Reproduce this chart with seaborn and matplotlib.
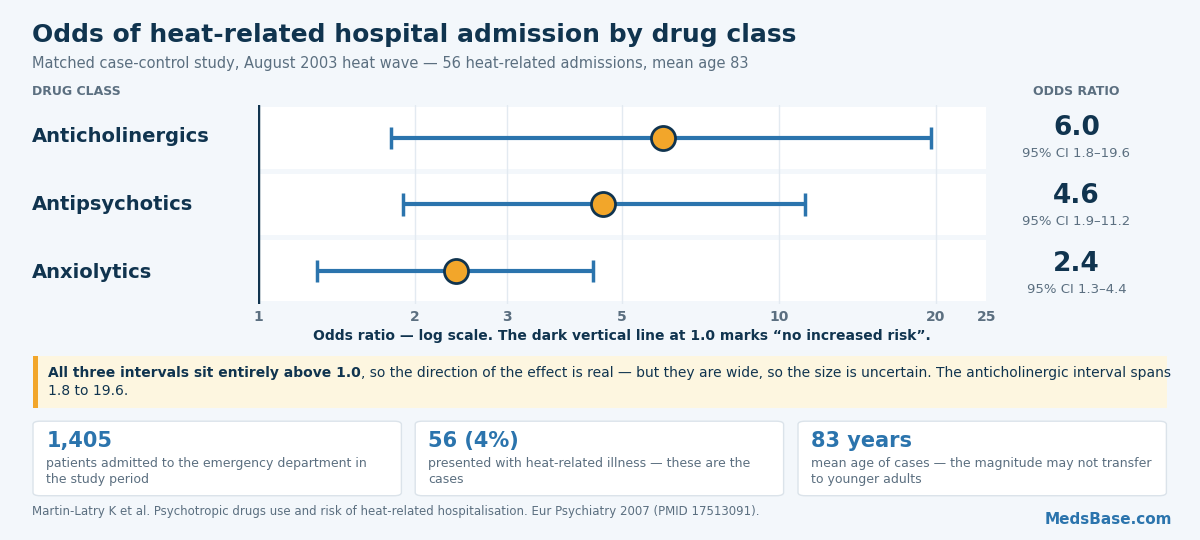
import matplotlib
matplotlib.use("Agg")
import matplotlib.pyplot as plt
import seaborn as sns
import pandas as pd
from matplotlib.patches import FancyBboxPatch, Rectangle

drugs = ["Anticholinergics", "Antipsychotics", "Anxiolytics"]
odds = [6.0, 4.6, 2.4]
lo = [1.8, 1.9, 1.3]
hi = [19.6, 11.2, 4.4]
ticks = [1, 2, 3, 5, 10, 20, 25]
cards = [("1,405", "patients admitted to the emergency department in\nthe study period"),
         ("56 (4%)", "presented with heat-related illness — these are the\ncases"),
         ("83 years", "mean age of cases — the magnitude may not transfer\nto younger adults")]

sns.set_theme(style="white")
plt.rcParams['font.family'] = ['DejaVu Sans']
BG = "#f3f7fb"; NAVY = "#10344f"; BLUE = "#2b74ad"; GREY = "#5b6f80"; ORANGE = "#f2a62a"
fig = plt.figure(figsize=(12, 5.4), dpi=100, facecolor=BG)

fig.text(0.027, 0.935, "Odds of heat-related hospital admission by drug class", fontsize=18, weight="bold", color=NAVY, va="center")
fig.text(0.027, 0.882, "Matched case-control study, August 2003 heat wave — 56 heat-related admissions, mean age 83", fontsize=10.5, color=GREY, va="center")
fig.text(0.027, 0.830, "DRUG CLASS", fontsize=9, weight="bold", color=GREY, va="center")
fig.text(0.897, 0.830, "ODDS RATIO", fontsize=9, weight="bold", color=GREY, va="center", ha="center")

ax = fig.add_axes([0.215, 0.437, 0.607, 0.369])
ax.set_facecolor(BG)
df = pd.DataFrame({"drug": drugs, "or": odds, "lo": lo, "hi": hi, "y": [0, 1, 2]})
ax.set_xscale("log")
ax.set_xlim(1, 25)
ax.set_ylim(2.5, -0.5)
for i in range(3):
    ax.add_patch(Rectangle((1, i - 0.46), 24, 0.92, facecolor="white", edgecolor="none", zorder=0))
for t in [2, 3, 5, 10, 20]:
    ax.axvline(t, color="#e3eaf1", lw=1, zorder=1)
ax.axvline(1, color=NAVY, lw=2.5, zorder=2)
ax.hlines(df["y"], df["lo"], df["hi"], color=BLUE, lw=3, zorder=3)
ax.vlines(df["lo"], df["y"] - 0.17, df["y"] + 0.17, color=BLUE, lw=2.5, zorder=3)
ax.vlines(df["hi"], df["y"] - 0.17, df["y"] + 0.17, color=BLUE, lw=2.5, zorder=3)
sns.scatterplot(data=df, x="or", y="y", s=300, color=ORANGE, edgecolor=NAVY, linewidth=2, zorder=4, ax=ax, legend=False)
ax.set_xticks(ticks)
ax.set_xticklabels([str(t) for t in ticks], fontsize=10, weight="bold", color=GREY)
ax.xaxis.set_minor_locator(matplotlib.ticker.NullLocator())
ax.set_yticks([])
ax.set_xlabel("Odds ratio — log scale. The dark vertical line at 1.0 marks “no increased risk”.", fontsize=10, weight="bold", color=NAVY, labelpad=4)
ax.set_ylabel("")
ax.tick_params(axis="x", length=0, pad=4)
for s in ax.spines.values():
    s.set_visible(False)

ys = [0.748, 0.622, 0.496]
for y, d, o, l, h in zip(ys, drugs, odds, lo, hi):
    fig.text(0.027, y, d, fontsize=14, weight="bold", color=NAVY, va="center")
    fig.text(0.897, y + 0.015, f"{o:.1f}", fontsize=19, weight="bold", color=NAVY, va="center", ha="center")
    fig.text(0.897, y - 0.032, f"95% CI {l}–{h}", fontsize=9.5, color=GREY, va="center", ha="center")

fig.patches.append(Rectangle((0.0275, 0.245), 0.945, 0.096, transform=fig.transFigure, facecolor="#fdf6e0", edgecolor="none"))
fig.patches.append(Rectangle((0.0275, 0.245), 0.004, 0.096, transform=fig.transFigure, facecolor=ORANGE, edgecolor="none"))
tb = fig.text(0.040, 0.310, "All three intervals sit entirely above 1.0", fontsize=10, weight="bold", color=NAVY, va="center")
fig.canvas.draw()
bb = tb.get_window_extent(fig.canvas.get_renderer())
x2 = bb.x1 / fig.bbox.width
fig.text(x2, 0.310, ", so the direction of the effect is real — but they are wide, so the size is uncertain. The anticholinergic interval spans", fontsize=10, color=NAVY, va="center")
fig.text(0.040, 0.276, "1.8 to 19.6.", fontsize=10, color=NAVY, va="center")

xs = [0.0275, 0.346, 0.665]
for x, (big, small) in zip(xs, cards):
    fig.patches.append(FancyBboxPatch((x, 0.082), 0.307, 0.138, boxstyle="round,pad=0,rounding_size=0.006",
                                      transform=fig.transFigure, facecolor="white", edgecolor="#dbe3ea", lw=1))
    fig.text(x + 0.011, 0.184, big, fontsize=15, weight="bold", color=BLUE, va="center")
    fig.text(x + 0.011, 0.127, small, fontsize=9, color=GREY, va="center", linespacing=1.35)

fig.text(0.027, 0.053, "Martin-Latry K et al. Psychotropic drugs use and risk of heat-related hospitalisation. Eur Psychiatry 2007 (PMID 17513091).", fontsize=8.5, color=GREY, va="center")
fig.text(0.977, 0.038, "MedsBase.com", fontsize=11, weight="bold", color=BLUE, va="center", ha="right")

fig.savefig("out.png", dpi=100, facecolor=BG)
